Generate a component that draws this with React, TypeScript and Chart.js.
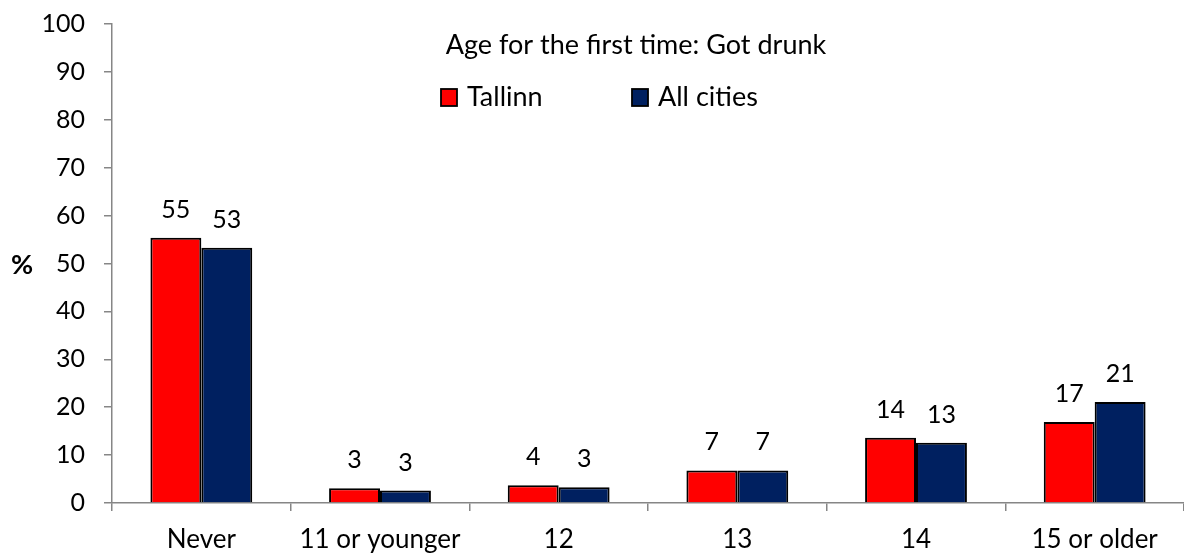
import { useEffect, useRef } from "react";
import { Chart, registerables } from "chart.js";

Chart.register(...registerables);

const categories = ["Never", "11 or younger", "12", "13", "14", "15 or older"];
const tallinn = [55.4, 3.1, 3.7, 6.8, 13.6, 16.9];
const allCities = [53.3, 2.6, 3.3, 6.8, 12.6, 21.1];
const seriesNames = ["Tallinn", "All cities"];
const seriesColors = ["#FF0000", "#002060"];
const chartTitle = "Age for the first time: Got drunk";
const yAxisTitle = "%";
const yMin = 0;
const yMax = 100;
const yStep = 10;

const FONT = "Lato, 'Open Sans', sans-serif";
const NUM_FS = 25;
const TEXT_FS = 27;

const overlayPlugin = {
  id: "overlay",
  afterDatasetsDraw(chart: any) {
    const ctx = chart.ctx;
    const area = chart.chartArea;
    ctx.save();
    ctx.fillStyle = "#000";
    ctx.font = `${NUM_FS}px ${FONT}`;
    ctx.textAlign = "center";
    ctx.textBaseline = "alphabetic";
    // data labels
    chart.data.datasets.forEach((ds: any, i: number) => {
      const meta = chart.getDatasetMeta(i);
      meta.data.forEach((el: any, j: number) => {
        const v = ds.data[j];
        ctx.fillText(String(Math.round(v)), el.x, el.y - 20);
      });
    });
    // title
    ctx.font = `${TEXT_FS}px ${FONT}`;
    ctx.fillText(chartTitle, 636, 54);
    // legend
    const legendX = [441, 632];
    ctx.textAlign = "left";
    seriesNames.forEach((name, i) => {
      const bx = legendX[i];
      ctx.fillStyle = seriesColors[i];
      ctx.fillRect(bx, 89, 16, 17);
      ctx.lineWidth = 1.8;
      ctx.strokeStyle = "#000";
      ctx.strokeRect(bx, 89, 16, 17);
      ctx.fillStyle = "#000";
      ctx.fillText(name, bx + 26, 106);
    });
    // y axis title
    ctx.font = `bold 27px ${FONT}`;
    ctx.textAlign = "center";
    ctx.textBaseline = "middle";
    ctx.fillText(yAxisTitle, 22, (area.top + area.bottom) / 2 + 2);
    ctx.restore();
  },
};

export default function App() {
  const ref = useRef<HTMLCanvasElement>(null);
  useEffect(() => {
    document.body.style.margin = "0";
    const canvas = ref.current!;
    const chart = new Chart(canvas, {
      type: "bar",
      data: {
        labels: categories,
        datasets: [
          {
            label: seriesNames[0],
            data: tallinn,
            backgroundColor: seriesColors[0],
            borderColor: "#000",
            borderWidth: 2,
            categoryPercentage: 0.57,
            barPercentage: 1.0,
          },
          {
            label: seriesNames[1],
            data: allCities,
            backgroundColor: seriesColors[1],
            borderColor: "#000",
            borderWidth: 2,
            categoryPercentage: 0.57,
            barPercentage: 1.0,
          },
        ],
      },
      options: {
        animation: false,
        responsive: false,
        maintainAspectRatio: false,
        layout: { padding: { top: 24, left: 0, right: 0, bottom: 0 } },
        plugins: {
          legend: { display: false },
          title: { display: false },
          tooltip: { enabled: false },
        },
        scales: {
          x: {
            offset: true,
            grid: {
              display: true,
              offset: true,
              drawOnChartArea: false,
              drawTicks: true,
              tickLength: 8,
              color: "#868686",
              lineWidth: 1.5,
            },
            border: { display: true, color: "#868686", width: 1.5 },
            ticks: {
              color: "#000",
              font: { family: FONT, size: 26 },
              padding: 13,
              maxRotation: 0,
              autoSkip: false,
            },
            afterFit: (scale: any) => {
              scale.height = 50;
              scale.paddingLeft = 0;
              scale.paddingRight = 0;
            },
          },
          y: {
            min: yMin,
            max: yMax,
            grid: {
              display: true,
              drawOnChartArea: false,
              drawTicks: true,
              tickLength: 8,
              color: "#868686",
              lineWidth: 1.5,
            },
            border: { display: true, color: "#868686", width: 1.5 },
            ticks: {
              stepSize: yStep,
              color: "#000",
              font: { family: FONT, size: NUM_FS },
              padding: 19,
            },
            afterFit: (scale: any) => {
              scale.width = 112;
              scale.paddingTop = 0;
              scale.paddingBottom = 0;
            },
          },
        },
      },
      plugins: [overlayPlugin],
    });
    return () => chart.destroy();
  }, []);
  return <canvas ref={ref} width={1184} height={553} style={{ display: "block" }} />;
}
